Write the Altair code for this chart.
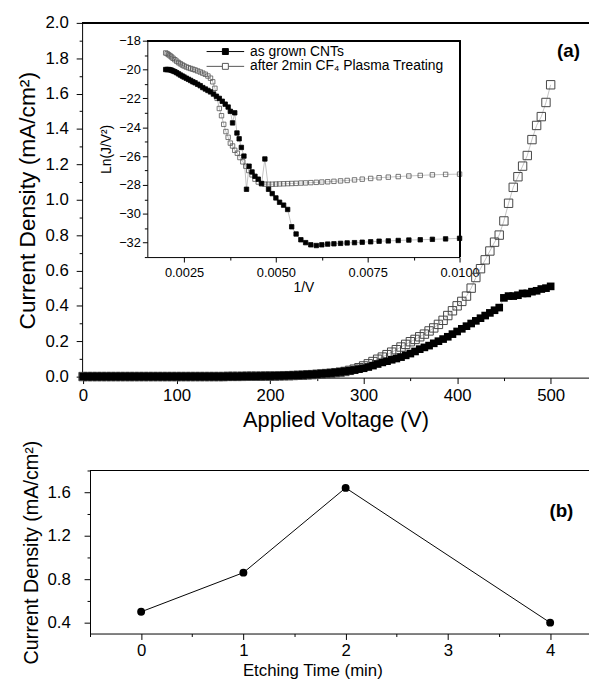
import altair as alt
import pandas as pd

FONT = "Liberation Sans"

# ---------------- data: panel (a) main J-V curves ----------------
series_names = ["as grown CNTs", "after 2min CF\u2084 Plasma Treating"]

voltage = [0, 5, 10, 15, 20, 25, 30, 35, 40, 45, 50, 55, 60, 65, 70, 75, 80, 85, 90, 95,
           100, 105, 110, 115, 120, 125, 130, 135, 140, 145, 150, 155, 160, 165, 170, 175,
           180, 185, 190, 195, 200, 205, 210, 215, 220, 225, 230, 235, 240, 245, 250, 255,
           260, 265, 270, 275, 280, 285, 290, 295, 300, 305, 310, 315, 320, 325, 330, 335,
           340, 345, 350, 355, 360, 365, 370, 375, 380, 385, 390, 395, 400, 405, 410, 415,
           420, 425, 430, 435, 440, 445, 450, 455, 460, 465, 470, 475, 480, 485, 490, 495, 500]

j_as_grown = [0.0, 0.0, 0.0, 0.0, 0.0, 0.0, 0.0, 0.0, 0.0, 0.0, 0.0, 0.0, 0.0, 0.0, 0.0, 0.0,
              0.0, 0.0, 0.0, 0.0, 0.0, 0.0, 0.0, 0.0, 0.0, 0.0, 0.0, 0.0, 0.0, 0.0, 0.0,
              0.001, 0.001, 0.001, 0.002, 0.002, 0.002, 0.002, 0.003, 0.003,
              0.003, 0.004, 0.004, 0.005, 0.006, 0.007, 0.008, 0.009, 0.011, 0.012,
              0.014, 0.016, 0.018, 0.020, 0.023, 0.026, 0.030, 0.033, 0.037, 0.042,
              0.047, 0.054, 0.062, 0.071, 0.080, 0.087, 0.095, 0.102, 0.110, 0.120,
              0.130, 0.142, 0.155, 0.165, 0.175, 0.188, 0.200, 0.212, 0.225, 0.240,
              0.255, 0.270, 0.285, 0.300, 0.315, 0.330, 0.345, 0.360, 0.375, 0.390,
              0.445, 0.455, 0.455, 0.460, 0.470, 0.470, 0.480, 0.485, 0.495, 0.500,
              0.510]

j_cf4 = [0.0, 0.0, 0.0, 0.0, 0.0, 0.0, 0.0, 0.0, 0.0, 0.0, 0.0, 0.0, 0.0, 0.0, 0.0, 0.0,
         0.0, 0.0, 0.0, 0.0, 0.0, 0.0, 0.0, 0.0, 0.0, 0.0, 0.0, 0.0, 0.0, 0.0, 0.0,
         0.001, 0.001, 0.001, 0.001, 0.002, 0.002, 0.002, 0.002, 0.003,
         0.003, 0.003, 0.004, 0.005, 0.005, 0.006, 0.007, 0.008, 0.010, 0.011,
         0.013, 0.015, 0.017, 0.019, 0.022, 0.025, 0.029, 0.035, 0.042, 0.050,
         0.060, 0.072, 0.085, 0.098, 0.110, 0.124, 0.138, 0.152, 0.167, 0.182,
         0.197, 0.210, 0.225, 0.240, 0.258, 0.275, 0.295, 0.318, 0.345, 0.372,
         0.400, 0.425, 0.455, 0.500, 0.560, 0.610, 0.660, 0.710, 0.760, 0.800,
         0.880, 0.980, 1.070, 1.130, 1.190, 1.250, 1.340, 1.420, 1.470, 1.550,
         1.650]

# ---------------- data: inset Ln(J/V^2) vs 1/V ----------------
inv_v_grown = [0.00200, 0.00204, 0.00208, 0.00212, 0.00216, 0.00220, 0.00225, 0.00230,
               0.00235, 0.00240, 0.00245, 0.00250, 0.00256, 0.00262, 0.00268, 0.00274,
               0.00280, 0.00287, 0.00294, 0.00301, 0.00308, 0.00315, 0.00322, 0.00330,
               0.00338, 0.00346, 0.00354, 0.00362, 0.00370, 0.00376, 0.00382, 0.00388,
               0.00394, 0.00400, 0.00406, 0.00413, 0.00420, 0.00427, 0.00435, 0.00443,
               0.00452, 0.00461, 0.00470, 0.00480, 0.00490, 0.00500, 0.00510, 0.00521,
               0.00532, 0.00543, 0.00555, 0.00568, 0.00581, 0.00595, 0.00610, 0.00625,
               0.00641, 0.00658, 0.00676, 0.00694, 0.00714, 0.00735, 0.00758, 0.00781,
               0.00806, 0.00833, 0.00862, 0.00893, 0.00926, 0.00962, 0.01000]
ln_grown = [-20.00, -20.00, -20.00, -20.02, -20.05, -20.10, -20.15, -20.22,
            -20.30, -20.38, -20.45, -20.52, -20.60, -20.68, -20.76, -20.85,
            -20.92, -21.02, -21.12, -21.25, -21.35, -21.45, -21.55, -21.70,
            -21.85, -22.00, -22.20, -22.40, -22.60, -22.90, -23.70, -23.00,
            -24.40, -24.80, -25.40, -26.00, -28.30, -26.70, -27.10, -27.40,
            -27.60, -27.90, -26.20, -28.30, -28.60, -28.90, -29.20, -29.40,
            -29.70, -30.90, -31.40, -31.80, -32.00, -32.15, -32.20, -32.15,
            -32.10, -32.08, -32.05, -32.02, -32.00, -31.97, -31.94, -31.90,
            -31.88, -31.85, -31.82, -31.80, -31.77, -31.74, -31.70]

inv_v_cf4 = [0.00200, 0.00204, 0.00208, 0.00212, 0.00216, 0.00220, 0.00225, 0.00230,
             0.00235, 0.00240, 0.00245, 0.00250, 0.00256, 0.00262, 0.00268, 0.00274,
             0.00280, 0.00287, 0.00294, 0.00301, 0.00308, 0.00315, 0.00322, 0.00328,
             0.00334, 0.00340, 0.00346, 0.00352, 0.00358, 0.00364, 0.00370, 0.00376,
             0.00382, 0.00388, 0.00395, 0.00402, 0.00410, 0.00418, 0.00426, 0.00435,
             0.00443, 0.00452, 0.00461, 0.00470, 0.00480, 0.00490, 0.00500, 0.00510,
             0.00521, 0.00532, 0.00543, 0.00555, 0.00568, 0.00581, 0.00595, 0.00610,
             0.00625, 0.00641, 0.00658, 0.00676, 0.00694, 0.00714, 0.00735, 0.00758,
             0.00781, 0.00806, 0.00833, 0.00862, 0.00893, 0.00926, 0.00962, 0.01000]
ln_cf4 = [-18.85, -18.90, -18.97, -19.05, -19.13, -19.22, -19.32, -19.42,
          -19.52, -19.60, -19.68, -19.75, -19.82, -19.88, -19.93, -19.98,
          -20.03, -20.10, -20.17, -20.25, -20.33, -20.45, -20.60, -20.85,
          -21.30, -22.00, -22.70, -23.20, -23.80, -24.30, -24.70, -25.10,
          -25.30, -25.60, -25.80, -26.10, -26.40, -26.70, -27.00, -27.30,
          -27.60, -27.80, -27.92, -27.95, -27.95, -27.95, -27.94, -27.93,
          -27.92, -27.91, -27.90, -27.89, -27.87, -27.86, -27.84, -27.82,
          -27.80, -27.78, -27.75, -27.72, -27.69, -27.65, -27.60, -27.55,
          -27.50, -27.46, -27.42, -27.38, -27.34, -27.30, -27.27, -27.25]

# ---------------- data: panel (b) ----------------
etch_time = [0, 1, 2, 4]
etch_current = [0.50, 0.86, 1.64, 0.40]

# ---------------- tick values ----------------
main_x_ticks = [0, 50, 100, 150, 200, 250, 300, 350, 400, 450, 500]
main_y_ticks = [0.0, 0.1, 0.2, 0.3, 0.4, 0.5, 0.6, 0.7, 0.8, 0.9, 1.0, 1.1, 1.2, 1.3,
                1.4, 1.5, 1.6, 1.7, 1.8, 1.9, 2.0]
inset_x_ticks = [0.0025, 0.00375, 0.005, 0.00625, 0.0075, 0.00875, 0.01]
inset_y_ticks = [-33, -32, -31, -30, -29, -28, -27, -26, -25, -24, -23, -22, -21, -20, -19, -18]
b_x_ticks = [-0.5, 0, 0.5, 1, 1.5, 2, 2.5, 3, 3.5, 4]
b_y_ticks = [0.4, 0.6, 0.8, 1.0, 1.2, 1.4, 1.6, 1.8]

# ---------------- layout (pixels inside the plot group) ----------------
W, H = 513, 618
MAIN_BOTTOM = 359
INSET_LEFT, INSET_RIGHT, INSET_TOP, INSET_BOTTOM = 66, 382, 18, 237
B_LEFT, B_TOP = 8, 453


def cond(test, major, minor):
    return {"condition": {"test": test, "value": major}, "value": minor}


def axis(**kw):
    base = dict(grid=False, domainColor="black", tickColor="black", labelColor="black",
                titleColor="black", labelFont=FONT, titleFont=FONT, titleFontWeight="normal",
                labelOverlap=False, labelFlush=False, domainWidth=1, tickWidth=1,
                tickCount=100)
    base.update(kw)
    return alt.Axis(**base)


main_df = pd.DataFrame({
    "voltage": voltage * 2,
    "J": j_as_grown + j_cf4,
    "series": [series_names[0]] * len(voltage) + [series_names[1]] * len(voltage),
})

mx = alt.X("voltage:Q",
           scale=alt.Scale(domain=[-1, 541], range=[0, W], nice=False, zero=False),
           axis=axis(orient="bottom", offset=MAIN_BOTTOM - H, values=main_x_ticks,
                     labelExpr="datum.value % 100 == 0 ? format(datum.value, 'd') : ''",
                     tickSize=cond("datum.value % 100 == 0", 6, 3),
                     labelFontSize=17, titleFontSize=22, labelPadding=4, titlePadding=6,
                     title="Applied Voltage (V)"))
my = alt.Y("J:Q",
           scale=alt.Scale(domain=[-0.006, 2.0], range=[MAIN_BOTTOM, 0], nice=False, zero=False),
           axis=axis(orient="left", offset=0, values=main_y_ticks,
                     labelExpr="round(datum.value * 10) % 2 == 0 ? format(datum.value, '.1f') : ''",
                     tickSize=cond("round(datum.value * 10) % 2 == 0", 6, 3),
                     labelFontSize=17, titleFontSize=23, labelPadding=8, titlePadding=6,
                     title="Current Density (mA/cm\u00b2)"))

base_main = alt.Chart(main_df)
main_lines = base_main.mark_line(color="#999999", strokeWidth=0.6).encode(
    x=mx, y=my, detail="series:N")
main_open = base_main.transform_filter(
    alt.datum.series == series_names[1]
).mark_point(shape="square", filled=False, size=72, stroke="#444444", strokeWidth=1,
             opacity=1).encode(x=mx, y=my)
main_filled = base_main.transform_filter(
    alt.datum.series == series_names[0]
).mark_point(shape="square", filled=True, size=60, color="black", opacity=1).encode(x=mx, y=my)
main_frame = alt.Chart(main_df).mark_rule(color="black", strokeWidth=1).encode(
    y=alt.datum(2.0))
label_a = alt.Chart(pd.DataFrame({"t": ["(a)"]})).mark_text(
    font=FONT, fontSize=19, fontWeight="bold", color="black", align="center",
    baseline="middle").encode(x=alt.datum(519), y=alt.datum(1.84), text="t:N")

main_layer = alt.layer(main_lines, main_open, main_filled, main_frame, label_a)

# ---------------- inset ----------------
inset_df = pd.DataFrame({
    "inv_v": inv_v_grown + inv_v_cf4,
    "ln": ln_grown + ln_cf4,
    "series": [series_names[0]] * len(inv_v_grown) + [series_names[1]] * len(inv_v_cf4),
})

ix = alt.X("inv_v:Q",
           scale=alt.Scale(domain=[0.0015, 0.01], range=[INSET_LEFT, INSET_RIGHT],
                           nice=False, zero=False),
           axis=axis(orient="bottom", offset=INSET_BOTTOM - H, values=inset_x_ticks,
                     labelExpr="abs(datum.value * 400 - round(datum.value * 400)) < 0.01 ? format(datum.value, '.4f') : ''",
                     tickSize=cond("abs(datum.value * 400 - round(datum.value * 400)) < 0.01", 5, 3),
                     labelFontSize=13, titleFontSize=14, labelPadding=5, titlePadding=1,
                     title="1/V"))
iy = alt.Y("ln:Q",
           scale=alt.Scale(domain=[-33, -18], range=[INSET_BOTTOM, INSET_TOP],
                           nice=False, zero=False),
           axis=axis(orient="left", offset=-INSET_LEFT, values=inset_y_ticks,
                     labelExpr="datum.value % 2 == 0 ? format(datum.value, 'd') : ''",
                     tickSize=cond("datum.value % 2 == 0", 5, 3),
                     labelFontSize=13, titleFontSize=14, labelPadding=2, titlePadding=5,
                     title="Ln(J/V\u00b2)"))

LEG_PATH = "M-3.8,0H-0.6M0.6,0H3.8M-0.6,-0.6H0.6V0.6H-0.6Z"
leg = alt.Legend(title=None, orient="none", legendX=138, legendY=22, symbolType=LEG_PATH,
                 symbolSize=100, symbolStrokeWidth=1, labelOffset=18, labelFont=FONT,
                 labelFontSize=14, labelColor="black", labelLimit=400, rowPadding=1,
                 padding=0)

base_inset = alt.Chart(inset_df)
inset_lines = base_inset.mark_line(color="#999999", strokeWidth=0.6).encode(
    x=ix, y=iy, detail="series:N")
inset_points = base_inset.mark_point(shape="square", filled=True, size=20, strokeWidth=0.8,
                                     opacity=1).encode(
    x=ix, y=iy,
    fill=alt.Fill("series:N", scale=alt.Scale(domain=series_names,
                                              range=["black", "transparent"]), legend=leg),
    stroke=alt.Stroke("series:N", scale=alt.Scale(domain=series_names,
                                                  range=["black", "#555555"]), legend=leg),
    order=alt.Order("series:N", sort="ascending"),
)
inset_top = alt.Chart(inset_df).mark_rule(color="black", strokeWidth=1).encode(
    x=alt.datum(0.0015), x2=alt.datum(0.01), y=alt.datum(-18))
inset_right = alt.Chart(inset_df).mark_rule(color="black", strokeWidth=1).encode(
    x=alt.datum(0.01), y=alt.datum(-33), y2=alt.datum(-18))

inset_layer = alt.layer(inset_lines, inset_points, inset_top, inset_right)

# ---------------- panel (b) ----------------
b_df = pd.DataFrame({"t": etch_time, "j": etch_current})
bx = alt.X("t:Q",
           scale=alt.Scale(domain=[-0.5, 4.38], range=[B_LEFT, W], nice=False, zero=False),
           axis=axis(orient="bottom", offset=0, values=b_x_ticks,
                     labelExpr="datum.value % 1 == 0 ? format(datum.value, 'd') : ''",
                     tickSize=cond("datum.value % 1 == 0", 6, 3),
                     labelFontSize=17, titleFontSize=17, labelPadding=3, titlePadding=4,
                     titleX=233, title="Etching Time (min)"))
by = alt.Y("j:Q",
           scale=alt.Scale(domain=[0.3, 1.8], range=[H, B_TOP], nice=False, zero=False),
           axis=axis(orient="left", offset=-B_LEFT, values=b_y_ticks,
                     labelExpr="round(datum.value * 10) % 4 == 0 ? format(datum.value, '.1f') : ''",
                     tickSize=cond("round(datum.value * 10) % 4 == 0", 6, 3),
                     labelFontSize=17, titleFontSize=20, labelPadding=14, titlePadding=6,
                     title="Current Density (mA/cm\u00b2)"))
b_line = alt.Chart(b_df).mark_line(color="black", strokeWidth=1).encode(x=bx, y=by)
b_pts = alt.Chart(b_df).mark_point(shape="circle", filled=True, size=64, color="black",
                                   opacity=1).encode(x=bx, y=by)
b_frame = alt.Chart(b_df).mark_rule(color="black", strokeWidth=1).encode(
    x=alt.datum(-0.5), x2=alt.datum(4.38), y=alt.datum(1.8))
label_b = alt.Chart(pd.DataFrame({"t": ["(b)"]})).mark_text(
    font=FONT, fontSize=19, fontWeight="bold", color="black", align="center",
    baseline="middle").encode(x=alt.datum(4.11), y=alt.datum(1.43), text="t:N")
b_layer = alt.layer(b_line, b_pts, b_frame, label_b)

chart = alt.layer(main_layer, inset_layer, b_layer).resolve_scale(
    x="independent", y="independent"
).properties(
    width=W, height=H,
    autosize=alt.AutoSizeParams(type="none"),
    padding={"left": 75, "top": 11, "right": 0, "bottom": 47},
    background="white",
).configure_view(strokeWidth=0)

chart.save("out.html", embed_options={"renderer": "svg", "actions": False})
